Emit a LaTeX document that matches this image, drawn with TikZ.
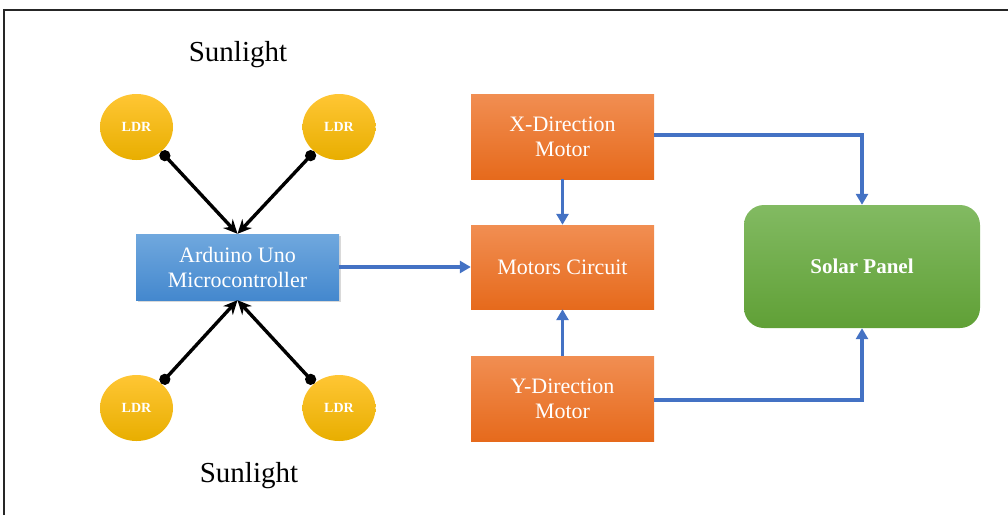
\documentclass[tikz,border=0pt]{standalone}
\usepackage{fontspec}
\setmainfont{Liberation Serif}
\usetikzlibrary{arrows.meta,shapes.geometric,shadows}
\definecolor{ldrtop}{RGB}{255,198,52}
\definecolor{ldrbot}{RGB}{232,174,0}
\definecolor{unotop}{RGB}{112,168,222}
\definecolor{unobot}{RGB}{68,136,206}
\definecolor{mottop}{RGB}{241,142,82}
\definecolor{motbot}{RGB}{230,106,28}
\definecolor{pantop}{RGB}{130,186,98}
\definecolor{panbot}{RGB}{96,160,54}
\definecolor{wire}{RGB}{68,114,196}
\begin{document}
\begin{tikzpicture}[x=1pt,y=-1pt,
  ldr/.style={ellipse, minimum width=73pt, minimum height=66pt, inner sep=0pt,
    top color=ldrtop, bottom color=ldrbot, text=white,
    font=\fontsize{14}{16}\selectfont\bfseries},
  unobox/.style={rectangle, minimum width=203pt, minimum height=66pt, inner sep=0pt,
    top color=unotop, bottom color=unobot, text=white, align=center,
    drop shadow={shadow xshift=1.5pt, shadow yshift=-2pt, opacity=0.3},
    font=\fontsize{22}{25}\selectfont},
  motbox/.style={rectangle, minimum width=183pt, minimum height=85pt, inner sep=0pt,
    top color=mottop, bottom color=motbot, text=white, align=center,
    font=\fontsize{22}{25}\selectfont},
  panbox/.style={rectangle, rounded corners=20pt, minimum width=236pt, minimum height=123pt,
    inner sep=0pt, top color=pantop, bottom color=panbot, text=white,
    font=\fontsize{21}{25}\selectfont\bfseries},
  sunlbl/.style={font=\fontsize{29}{32}\selectfont},
  sensor/.style={line width=3.4pt, black, {Circle[length=11pt]}-{Stealth[length=14pt,width=13pt]}},
  flow/.style={line width=3.4pt, wire, -{Triangle[length=11pt,width=12pt]}}
]
\useasboundingbox (0,0) rectangle (1008,515);
% outer frame (runs past the page on the right and bottom)
\draw[line width=2pt, black!85] (4,515) -- (4,10) -- (1008,10);

% light sensors
\node[ldr] (l1) at (136.5,127) {LDR};
\node[ldr] (l2) at (339,127) {LDR};
\node[ldr] (l3) at (136.5,408) {LDR};
\node[ldr] (l4) at (339,408) {LDR};

\node[sunlbl] (s1) at (238,55) {Sunlight};
\node[sunlbl] (s2) at (249,476) {Sunlight};

% controller and motor blocks
\node[unobox] (uno) at (237.5,267) {Arduino Uno\\Microcontroller};
\node[motbox] (xm) at (562.5,136.5) {X-Direction\\Motor};
\node[motbox, minimum height=84pt] (mc) at (562.5,267) {Motors Circuit};
\node[motbox] (ym) at (562.5,398.5) {Y-Direction\\Motor};
\node[panbox] (sp) at (862,266.5) {Solar Panel};

% sensor wiring
\draw[sensor] (l1.-45) -- (uno.north);
\draw[sensor] (l2.-135) -- (uno.north);
\draw[sensor] (l3.45) -- (uno.south);
\draw[sensor] (l4.135) -- (uno.south);

% control flow
\draw[flow] (uno.east) -- (mc.west);
\draw[flow] (xm.south) -- (mc.north);
\draw[flow] (ym.north) -- (mc.south);
\draw[flow] ([yshift=1.5pt]xm.east) -| (sp.north);
\draw[flow] ([yshift=-1.5pt]ym.east) -| (sp.south);
\end{tikzpicture}
\end{document}
